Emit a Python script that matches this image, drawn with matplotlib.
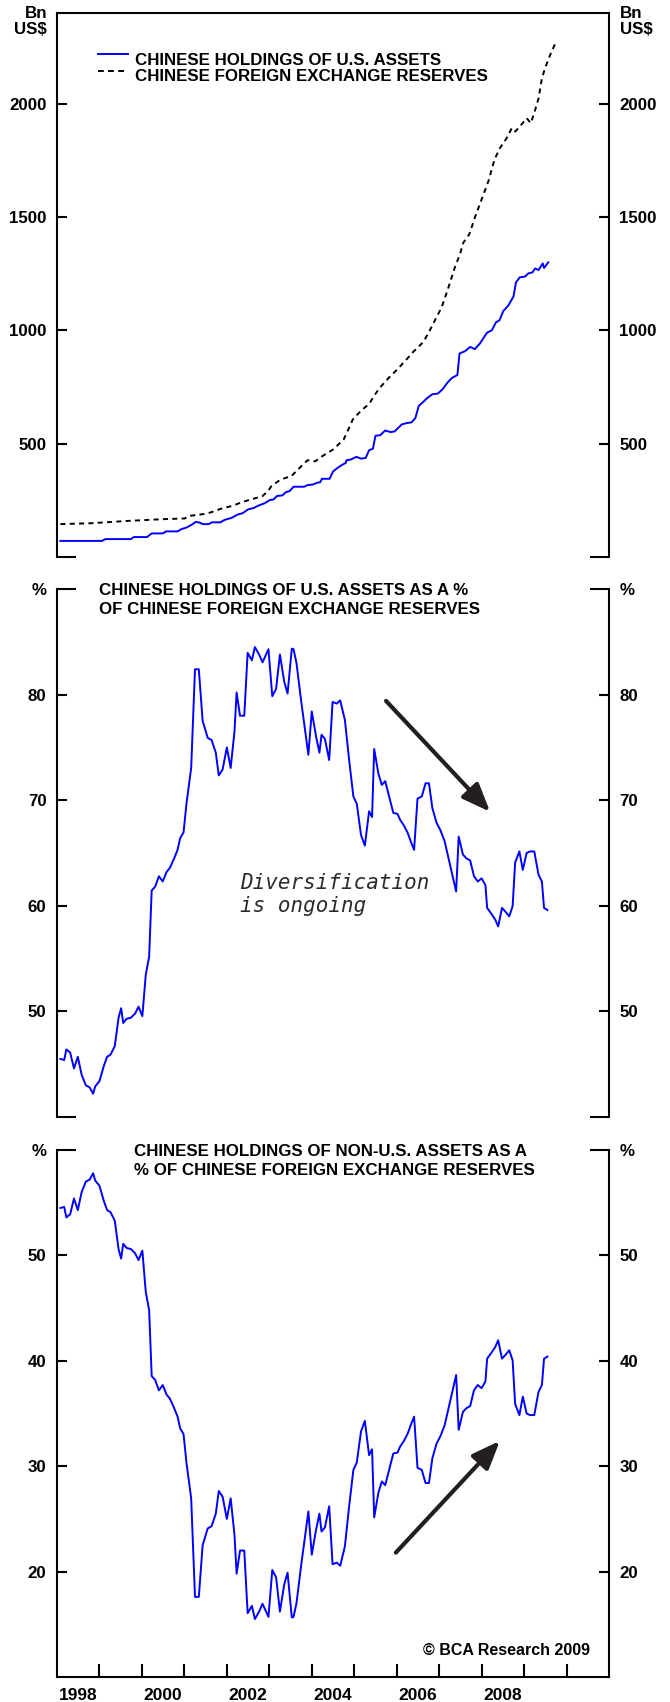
import matplotlib.pyplot as plt

plt.rcParams['font.family'] = ['Liberation Sans', 'DejaVu Sans']
plt.rcParams['font.weight'] = 'bold'

# Chinese holdings of U.S. assets, Bn US$ (decimal-year dates)
holdings_dates = [1998.08, 1999.06, 1999.14, 1999.74, 1999.81, 2000.12, 2000.23, 2000.49, 2000.57,
                  2000.84, 2000.93, 2001.05, 2001.17, 2001.27, 2001.35, 2001.44, 2001.57, 2001.65,
                  2001.85, 2001.95, 2002.12, 2002.25, 2002.37, 2002.50, 2002.63, 2002.76, 2002.89,
                  2003.01, 2003.10, 2003.18, 2003.31, 2003.39, 2003.48, 2003.57, 2003.82, 2003.90,
                  2004.03, 2004.12, 2004.20, 2004.24, 2004.42, 2004.50, 2004.60, 2004.71, 2004.80,
                  2004.82, 2004.92, 2005.05, 2005.16, 2005.27, 2005.35, 2005.44, 2005.50, 2005.61,
                  2005.73, 2005.86, 2005.95, 2006.12, 2006.24, 2006.35, 2006.44, 2006.52, 2006.63,
                  2006.71, 2006.84, 2006.97, 2007.08, 2007.20, 2007.30, 2007.43, 2007.48, 2007.61,
                  2007.73, 2007.84, 2007.96, 2008.13, 2008.24, 2008.34, 2008.42, 2008.51, 2008.63,
                  2008.75, 2008.81, 2008.90, 2009.02, 2009.10, 2009.20, 2009.26, 2009.34, 2009.44,
                  2009.47, 2009.57]
holdings_bn = [71, 71, 79, 79, 88, 88, 104, 104, 113,
               113, 123, 130, 142, 155, 152, 145, 145, 153,
               153, 164, 173, 187, 193, 210, 216, 228, 237,
               251, 254, 269, 272, 286, 291, 310, 310, 317,
               320, 327, 330, 345, 345, 377, 392, 406, 415,
               427, 430, 442, 434, 437, 471, 478, 535, 537,
               558, 551, 554, 585, 591, 594, 613, 667, 685,
               700, 718, 721, 740, 770, 790, 803, 898, 908,
               927, 917, 942, 990, 1000, 1036, 1044, 1085, 1110,
               1149, 1212, 1234, 1237, 1251, 1256, 1273, 1266, 1295,
               1275, 1300]

# Chinese foreign exchange reserves, Bn US$
reserves_dates = [1998.08, 1998.80, 1999.65, 2000.50, 2001.01, 2001.10, 2001.44, 2001.61, 2001.86,
                  2002.12, 2002.37, 2002.63, 2002.84, 2002.97, 2003.05, 2003.27, 2003.52, 2003.69,
                  2003.90, 2004.08, 2004.24, 2004.50, 2004.75, 2004.84, 2004.97, 2005.18, 2005.35,
                  2005.48, 2005.61, 2005.80, 2006.00, 2006.20, 2006.39, 2006.63, 2006.78, 2006.90,
                  2007.06, 2007.22, 2007.37, 2007.49, 2007.57, 2007.71, 2007.84, 2008.00, 2008.16,
                  2008.28, 2008.32, 2008.43, 2008.59, 2008.71, 2008.79, 2008.90, 2009.06, 2009.16,
                  2009.26, 2009.34, 2009.42, 2009.49, 2009.61, 2009.75]
reserves_bn = [145, 149, 159, 167, 170, 181, 189, 196, 213,
               225, 243, 257, 269, 291, 313, 342, 357, 389,
               427, 422, 444, 474, 518, 554, 608, 649, 675,
               715, 748, 788, 825, 865, 905, 949, 1000, 1044,
               1102, 1190, 1278, 1336, 1387, 1424, 1497, 1578, 1658,
               1738, 1760, 1804, 1848, 1892, 1877, 1899, 1936, 1914,
               1972, 2023, 2111, 2155, 2213, 2272]

# share of reserves held in U.S. / non-U.S. assets, %
share_dates = [1998.08, 1998.17, 1998.22, 1998.31, 1998.40, 1998.49, 1998.58, 1998.68, 1998.77,
               1998.85, 1998.90, 1999.00, 1999.10, 1999.18, 1999.26, 1999.36, 1999.45, 1999.51,
               1999.56, 1999.64, 1999.74, 1999.84, 1999.92, 2000.01, 2000.09, 2000.17, 2000.23,
               2000.31, 2000.40, 2000.49, 2000.58, 2000.66, 2000.76, 2000.84, 2000.90, 2000.98,
               2001.05, 2001.16, 2001.25, 2001.34, 2001.43, 2001.55, 2001.64, 2001.74, 2001.81,
               2001.90, 2002.00, 2002.09, 2002.18, 2002.23, 2002.31, 2002.41, 2002.49, 2002.59,
               2002.66, 2002.76, 2002.84, 2002.98, 2003.07, 2003.16, 2003.25, 2003.35, 2003.43,
               2003.53, 2003.57, 2003.64, 2003.75, 2003.84, 2003.92, 2004.00, 2004.10, 2004.18,
               2004.23, 2004.31, 2004.41, 2004.49, 2004.59, 2004.67, 2004.78, 2004.88, 2004.98,
               2005.06, 2005.16, 2005.25, 2005.35, 2005.42, 2005.47, 2005.57, 2005.65, 2005.73,
               2005.83, 2005.92, 2006.02, 2006.08, 2006.17, 2006.26, 2006.34, 2006.41, 2006.49,
               2006.59, 2006.68, 2006.76, 2006.84, 2006.94, 2007.03, 2007.13, 2007.23, 2007.33,
               2007.40, 2007.46, 2007.56, 2007.64, 2007.73, 2007.82, 2007.91, 2008.00, 2008.09,
               2008.13, 2008.22, 2008.32, 2008.39, 2008.48, 2008.57, 2008.65, 2008.73, 2008.79,
               2008.89, 2008.97, 2009.06, 2009.14, 2009.24, 2009.34, 2009.42, 2009.47, 2009.55]
us_share_pct = [45.5, 45.4, 46.4, 46.1, 44.6, 45.7, 44.0, 43.0, 42.8,
                42.2, 42.9, 43.4, 44.8, 45.7, 45.9, 46.7, 49.4, 50.3,
                48.9, 49.3, 49.4, 49.8, 50.45, 49.55, 53.45, 55.2, 61.45,
                61.8, 62.8, 62.3, 63.2, 63.6, 64.5, 65.3, 66.4, 66.95,
                69.7, 73.05, 82.4, 82.4, 77.5, 75.9, 75.7, 74.5, 72.35,
                72.9, 75.0, 73.05, 76.5, 80.2, 78.0, 78.0, 83.95, 83.25,
                84.5, 83.8, 83.05, 84.3, 79.85, 80.55, 83.8, 81.25, 80.1,
                84.35, 84.3, 83.0, 79.4, 76.7, 74.3, 78.4, 76.05, 74.5,
                76.2, 75.8, 73.8, 79.3, 79.15, 79.45, 77.6, 73.8, 70.35,
                69.65, 66.7, 65.7, 68.95, 68.4, 74.85, 72.5, 71.45, 71.8,
                70.2, 68.8, 68.7, 68.15, 67.6, 66.9, 66.0, 65.3, 70.15,
                70.35, 71.6, 71.6, 69.25, 67.85, 67.15, 66.1, 64.35, 62.6,
                61.35, 66.55, 64.85, 64.5, 64.3, 62.8, 62.3, 62.6, 61.95,
                59.8, 59.3, 58.7, 58.05, 59.8, 59.4, 59.0, 59.95, 64.1,
                65.15, 63.4, 65.0, 65.15, 65.15, 62.95, 62.3, 59.8, 59.6]
non_us_share_pct = [54.5, 54.6, 53.6, 53.9, 55.4, 54.3, 56.0, 57.0, 57.2,
                    57.8, 57.1, 56.6, 55.2, 54.3, 54.1, 53.3, 50.6, 49.7,
                    51.1, 50.7, 50.6, 50.2, 49.55, 50.45, 46.55, 44.8, 38.55,
                    38.2, 37.2, 37.7, 36.8, 36.4, 35.5, 34.7, 33.6, 33.05,
                    30.3, 26.95, 17.6, 17.6, 22.5, 24.1, 24.3, 25.5, 27.65,
                    27.1, 25.0, 26.95, 23.5, 19.8, 22.0, 22.0, 16.05, 16.75,
                    15.5, 16.2, 16.95, 15.7, 20.15, 19.45, 16.2, 18.75, 19.9,
                    15.65, 15.7, 17.0, 20.6, 23.3, 25.7, 21.6, 23.95, 25.5,
                    23.8, 24.2, 26.2, 20.7, 20.85, 20.55, 22.4, 26.2, 29.65,
                    30.35, 33.3, 34.3, 31.05, 31.6, 25.15, 27.5, 28.55, 28.2,
                    29.8, 31.2, 31.3, 31.85, 32.4, 33.1, 34.0, 34.7, 29.85,
                    29.65, 28.4, 28.4, 30.75, 32.15, 32.85, 33.9, 35.65, 37.4,
                    38.65, 33.45, 35.15, 35.5, 35.7, 37.2, 37.7, 37.4, 38.05,
                    40.2, 40.7, 41.3, 41.95, 40.2, 40.6, 41.0, 40.05, 35.9,
                    34.85, 36.6, 35.0, 34.85, 34.85, 37.05, 37.7, 40.2, 40.4]

year_ticks = list(range(1999, 2011))
year_labels = ['1998', '2000', '2002', '2004', '2006', '2008']

W, H = 670, 1702
BLUE = '#0000ff'
ARROW = '#231f20'


def px(x, y):
    # pixel position (from top-left) -> figure fraction
    return x / W, 1 - y / H


def fig_box(left, top, right, bottom):
    return [left / W, 1 - bottom / H, (right - left) / W, (bottom - top) / H]


def stub(ax, y):
    # short horizontal marks closing the open end of a panel
    for x0, x1 in [(0, 0.035), (0.965, 1)]:
        ax.plot([x0, x1], [y, y], transform=ax.transAxes, color='black',
                lw=1.5, solid_capstyle='butt', clip_on=False)


def style_panel(ax, ylim, yticks):
    ax.set_xlim(1998, 2011)
    ax.set_ylim(*ylim)
    for side in ['left', 'right', 'top', 'bottom']:
        ax.spines[side].set_linewidth(1.5)
    ax.set_yticks(yticks)
    ax.tick_params(axis='y', direction='in', length=7.2, width=1.5, left=True, right=True,
                   labelleft=True, labelright=True, labelsize=12.2, pad=7.5)
    ax.tick_params(axis='x', bottom=False, top=False, labelbottom=False)


fig = plt.figure(figsize=(W / 100, H / 100), dpi=100)
ax1 = fig.add_axes(fig_box(57, 13, 609, 557))
ax2 = fig.add_axes(fig_box(57, 589, 609, 1117))
ax3 = fig.add_axes(fig_box(57, 1150, 609, 1677))

# top panel: holdings vs reserves
ax1.plot(holdings_dates, holdings_bn, color=BLUE, lw=1.4)
ax1.plot(reserves_dates, reserves_bn, color='black', lw=1.4, ls=(0, (2.6, 2.2)))
style_panel(ax1, (0, 2400), [500, 1000, 1500, 2000])
ax1.spines['bottom'].set_visible(False)
stub(ax1, 0)

ax1.plot([0.074, 0.129], [0.925, 0.925], transform=ax1.transAxes, color=BLUE, lw=1.4)
ax1.plot([0.074, 0.129], [0.893, 0.893], transform=ax1.transAxes, color='black',
         lw=1.4, ls=(0, (3, 2.2)))
ax1.text(0.141, 0.9044, 'CHINESE HOLDINGS OF U.S. ASSETS', transform=ax1.transAxes,
         va='baseline', fontsize=12.2)
ax1.text(0.141, 0.875, 'CHINESE FOREIGN EXCHANGE RESERVES', transform=ax1.transAxes,
         va='baseline', fontsize=12.2)

# middle panel: U.S. share
ax2.plot(share_dates, us_share_pct, color=BLUE, lw=1.4)
style_panel(ax2, (40, 90), [50, 60, 70, 80])
ax2.spines['top'].set_visible(False)
ax2.spines['bottom'].set_visible(False)
stub(ax2, 0)
stub(ax2, 1)
ax2.annotate('', xy=(2008.20, 68.9), xytext=(2005.75, 79.4),
             arrowprops=dict(arrowstyle='-|>,head_length=0.95,head_width=0.38',
                             mutation_scale=18, color=ARROW, lw=3, shrinkA=0, shrinkB=0))
# baseline refers to the last line of the note
ax2.text(2002.3, 59.45, 'Diversification\nis ongoing', family='DejaVu Sans Mono',
         style='oblique', weight='normal', fontsize=15, color='#2b2b2b',
         va='baseline', linespacing=1.15)

# bottom panel: non-U.S. share
ax3.plot(share_dates, non_us_share_pct, color=BLUE, lw=1.4)
style_panel(ax3, (10, 60), [20, 30, 40, 50])
ax3.spines['top'].set_visible(False)
stub(ax3, 1)
ax3.set_xticks(year_ticks)
ax3.set_xticks([int(y) + 0.5 for y in year_labels], labels=year_labels, minor=True)
ax3.tick_params(axis='x', which='major', bottom=True, direction='in', length=9.5,
                width=1.5, labelbottom=False)
ax3.tick_params(axis='x', which='minor', bottom=True, length=0, labelbottom=True,
                labelsize=12.5, pad=8)
ax3.annotate('', xy=(2008.43, 32.4), xytext=(2005.98, 21.8),
             arrowprops=dict(arrowstyle='-|>,head_length=0.95,head_width=0.38',
                             mutation_scale=18, color=ARROW, lw=3, shrinkA=0, shrinkB=0))

# unit labels and panel titles
for x, ha in [(47, 'right'), (620, 'left')]:
    fig.text(*px(x, 18), 'Bn', ha=ha, va='baseline', fontsize=12.2)
    fig.text(*px(x, 34), 'US$', ha=ha, va='baseline', fontsize=12.2)
    fig.text(*px(x, 595), '%', ha=ha, va='baseline', fontsize=12.2)
    fig.text(*px(x, 1156.5), '%', ha=ha, va='baseline', fontsize=12.2)

fig.text(*px(99, 595), 'CHINESE HOLDINGS OF U.S. ASSETS AS A %', va='baseline', fontsize=12.2)
fig.text(*px(99, 614), 'OF CHINESE FOREIGN EXCHANGE RESERVES', va='baseline', fontsize=12.2)
fig.text(*px(133.5, 1156.5), 'CHINESE HOLDINGS OF NON-U.S. ASSETS AS A', va='baseline',
         fontsize=12.2)
fig.text(*px(133.5, 1175), '% OF CHINESE FOREIGN EXCHANGE RESERVES', va='baseline',
         fontsize=12.2)
fig.text(*px(590, 1655), '\u00a9 BCA Research 2009', ha='right', va='baseline', fontsize=11.5)

fig.savefig('out.png', dpi=100)
